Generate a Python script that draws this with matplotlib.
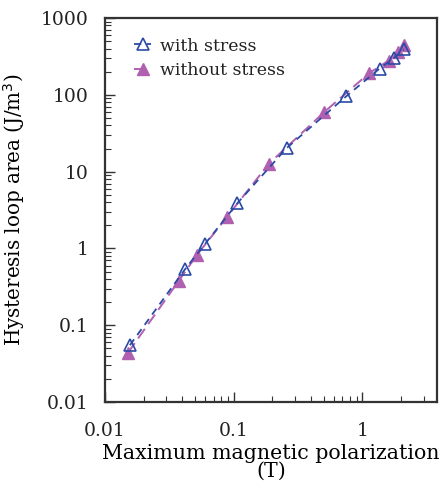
import matplotlib
matplotlib.use("Agg")
import matplotlib.pyplot as plt
from matplotlib.ticker import LogLocator, NullFormatter, FixedLocator

# data
with_x = [0.0156, 0.042, 0.060, 0.107, 0.258, 0.75, 1.36, 1.75, 2.1]
with_y = [0.055, 0.54, 1.15, 3.9, 20.3, 96, 220, 300, 390]
without_x = [0.0151, 0.0375, 0.0517, 0.0884, 0.187, 0.507, 1.13, 1.6, 1.9, 2.12]
without_y = [0.044, 0.38, 0.82, 2.56, 12.6, 60, 192, 280, 360, 450]
xticks = [0.01, 0.1, 1]
xticklabels = ["0.01", "0.1", "1"]
yticks = [0.01, 0.1, 1, 10, 100, 1000]
yticklabels = ["0.01", "0.1", "1", "10", "100", "1000"]

plt.rcParams['font.family'] = ['DejaVu Serif']
plt.rcParams['text.color'] = '#222222'
plt.rcParams['xtick.labelcolor'] = '#222222'
plt.rcParams['ytick.labelcolor'] = '#222222'
blue = "#2b4aa6"
pink = "#b060b0"

fig = plt.figure(figsize=(4.41, 4.88), dpi=100)
ax = fig.add_axes([0.238, 0.176, 0.753, 0.787])

ax.plot(without_x, without_y, linestyle=(0, (6, 3)), color=pink, lw=1.4,
        marker='^', markersize=9, markerfacecolor=pink, markeredgecolor=pink,
        label="without stress", zorder=2)
ax.plot(with_x, with_y, linestyle=(0, (4, 3)), color=blue, lw=1.3,
        marker='^', markersize=8.5, markerfacecolor='none', markeredgecolor=blue,
        markeredgewidth=1.2, label="with stress", zorder=3)

ax.set_xscale('log')
ax.set_yscale('log')
ax.set_xlim(0.01, 3.8)
ax.set_ylim(0.01, 1000)

ax.xaxis.set_major_locator(FixedLocator(xticks))
ax.set_xticklabels(xticklabels)
ax.yaxis.set_major_locator(FixedLocator(yticks))
ax.set_yticklabels(yticklabels)
ax.xaxis.set_minor_locator(LogLocator(base=10, subs=range(2, 10), numticks=20))
ax.yaxis.set_minor_locator(LogLocator(base=10, subs=range(2, 10), numticks=20))
ax.xaxis.set_minor_formatter(NullFormatter())
ax.yaxis.set_minor_formatter(NullFormatter())

ax.tick_params(which='major', direction='in', length=7, width=1.0, labelsize=13.5, color='#333333')
ax.tick_params(which='minor', direction='in', length=4, width=0.8, color='#333333')
ax.tick_params(axis='x', which='both', top=False, pad=14)
ax.tick_params(axis='y', which='both', right=False, pad=12)

for s in ax.spines.values():
    s.set_linewidth(1.6)
    s.set_color('#333333')

ax.set_xlabel("Maximum magnetic polarization\n(T)", fontsize=14.8, labelpad=3, linespacing=0.95)
ax.set_ylabel("Hysteresis loop area (J/m$^3$)", fontsize=14.3, labelpad=10)

handles, labels = ax.get_legend_handles_labels()
leg = ax.legend(handles[::-1], labels[::-1], loc='upper left', frameon=False,
                fontsize=12.5, handlelength=1.0, handletextpad=0.5,
                bbox_to_anchor=(0.04, 0.99), labelspacing=0.45)

fig.savefig("out.png", dpi=100)
